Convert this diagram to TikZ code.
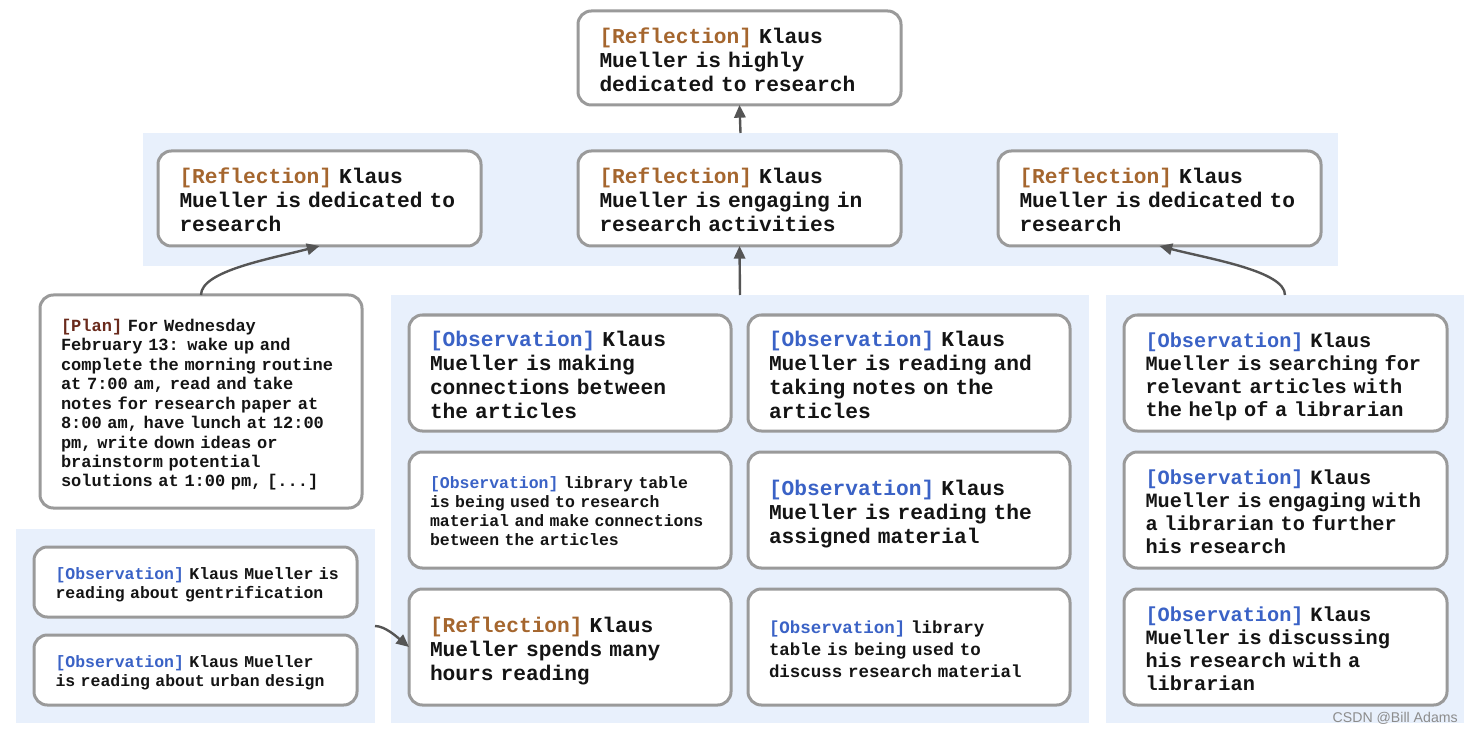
\documentclass[tikz,border=0pt]{standalone}
\usepackage{fontspec}
\setmonofont{Liberation Mono}
\newfontfamily\wmfont{Liberation Sans}
\usetikzlibrary{arrows.meta}
\definecolor{bandblue}{HTML}{E8F0FC}
\definecolor{boxgray}{HTML}{9A9A9A}
\definecolor{arrgray}{HTML}{555555}
\definecolor{reflc}{HTML}{A5662E}
\definecolor{obsc}{HTML}{3A62C6}
\definecolor{planc}{HTML}{6A2A1C}
\newcommand\fsL{\fontsize{15.9pt}{18pt}\selectfont}
\newcommand\fsR{\fontsize{15.2pt}{17.4pt}\selectfont}
\newcommand\fsM{\fontsize{13.1pt}{16.5pt}\selectfont}
\newcommand\fsS{\fontsize{12.35pt}{14.25pt}\selectfont}
\newcommand\fsP{\fontsize{12.75pt}{14.6pt}\selectfont}
\newcommand\rfl{{\color{reflc}[Reflection]}}
\newcommand\obs{{\color{obsc}[Observation]}}
\newcommand\pln{{\color{planc}[Plan]}}
\newcommand\tl[1]{\raisebox{-0.19\baselineskip}[\height][\depth]{\begin{tabular}{@{}l@{}}#1\end{tabular}}}
\tikzset{
  band/.style={fill=bandblue, draw=none, anchor=north west, inner sep=0pt, outer sep=0pt},
  mbox/.style={draw=boxgray, line width=2.25pt, rounded corners=10pt, fill=white,
    anchor=north west, outer sep=0pt, inner xsep=15.75pt, inner ysep=0pt, align=left, text width=210pt,
    font=\ttfamily\bfseries, text=black!92},
  arr/.style={draw=arrgray, line width=1.8pt, -{Triangle[length=9.5pt,width=8.5pt]}},
}
\begin{document}
\begin{tikzpicture}[x=0.75pt,y=-0.75pt]
\useasboundingbox[fill=white] (0,0) rectangle (1474,734);
% bands
\node[band, minimum width=896.25pt, minimum height=99.75pt] (band2) at (143,133) {};
\node[band, minimum width=269.25pt, minimum height=145.5pt] (bandL) at (16,529) {};
\node[band, minimum width=523.5pt, minimum height=321pt] (bandM) at (391,295) {};
\node[band, minimum width=268.5pt, minimum height=321pt] (bandR) at (1106,295) {};
% top
\node[mbox, minimum width=242.25pt, minimum height=70.5pt, font=\ttfamily\bfseries\fsL] (top) at (578,11)
  {\tl{\rfl{} Klaus\\Mueller is highly\\dedicated to research}};
% row 2
\node[mbox, minimum width=242.25pt, minimum height=71.25pt, font=\ttfamily\bfseries\fsL] (r2l) at (158,151)
  {\tl{\rfl{} Klaus\\Mueller is dedicated to\\research}};
\node[mbox, minimum width=242.25pt, minimum height=71.25pt, font=\ttfamily\bfseries\fsL] (r2m) at (578,151)
  {\tl{\rfl{} Klaus\\Mueller is engaging in\\research activities}};
\node[mbox, minimum width=242.25pt, minimum height=71.25pt, font=\ttfamily\bfseries\fsL] (r2r) at (998,151)
  {\tl{\rfl{} Klaus\\Mueller is dedicated to\\research}};
% plan
\node[mbox, minimum width=241.5pt, minimum height=159.75pt, font=\ttfamily\bfseries\fsP] (plan) at (40,295)
  {\tl{\pln{} For Wednesday\\February 13: wake up and\\complete the morning routine\\at 7:00 am, read and take\\notes for research paper at\\8:00 am, have lunch at 12:00\\pm, write down ideas or\\brainstorm potential\\solutions at 1:00 pm, [...]}};
% left bottom
\node[mbox, minimum width=242.25pt, minimum height=52.5pt, font=\ttfamily\bfseries\fsS] (lb1) at (34,547)
  {\tl{\obs{} Klaus Mueller is\\reading about gentrification}};
\node[mbox, minimum width=242.25pt, minimum height=52.5pt, font=\ttfamily\bfseries\fsS] (lb2) at (34,635)
  {\tl{\obs{} Klaus Mueller\\is reading about urban design}};
% middle
\node[mbox, minimum width=241.5pt, minimum height=87pt, font=\ttfamily\bfseries\fsL] (m11) at (409,315)
  {\tl{\obs{} Klaus\\Mueller is making\\connections between\\the articles}};
\node[mbox, minimum width=241.5pt, minimum height=87pt, font=\ttfamily\bfseries\fsL] (m12) at (748,315)
  {\tl{\obs{} Klaus\\Mueller is reading and\\taking notes on the\\articles}};
\node[mbox, minimum width=241.5pt, minimum height=87pt, font=\ttfamily\bfseries\fsS] (m21) at (409,452)
  {\tl{\obs{} library table\\is being used to research\\material and make connections\\between the articles}};
\node[mbox, minimum width=241.5pt, minimum height=87pt, font=\ttfamily\bfseries\fsL] (m22) at (748,452)
  {\tl{\obs{} Klaus\\Mueller is reading the\\assigned material}};
\node[mbox, minimum width=241.5pt, minimum height=87pt, font=\ttfamily\bfseries\fsL] (m31) at (409,589)
  {\tl{\rfl{} Klaus\\Mueller spends many\\hours reading}};
\node[mbox, minimum width=241.5pt, minimum height=87pt, font=\ttfamily\bfseries\fsM] (m32) at (748,589)
  {\tl{\obs{} library\\table is being used to\\discuss research material}};
% right
\node[mbox, minimum width=242.25pt, minimum height=87pt, font=\ttfamily\bfseries\fsR] (rr1) at (1124,315)
  {\tl{\obs{} Klaus\\Mueller is searching for\\relevant articles with\\the help of a librarian}};
\node[mbox, minimum width=242.25pt, minimum height=87pt, font=\ttfamily\bfseries\fsR] (rr2) at (1124,452)
  {\tl{\obs{} Klaus\\Mueller is engaging with\\a librarian to further\\his research}};
\node[mbox, minimum width=242.25pt, minimum height=87pt, font=\ttfamily\bfseries\fsR] (rr3) at (1124,589)
  {\tl{\obs{} Klaus\\Mueller is discussing\\his research with a\\librarian}};
% connectors
\draw[arr] (band2.north) -- (top.south);
\draw[arr] (bandM.north) -- (r2m.south);
\draw[arr] (plan.north) .. controls +(0,-24) and +(-50,13) .. (r2l.south);
\draw[arr] (bandR.north) .. controls +(0,-24) and +(50,13) .. (r2r.south);
\draw[arr] (bandL.east) .. controls +(10,0) and +(-12,-10) .. (m31.west);
% watermark
\node[anchor=east, font=\wmfont\fontsize{10.6pt}{12pt}\selectfont, text=black!45, inner sep=0pt] (wm) at (1458,718) {CSDN @Bill Adams};
\end{tikzpicture}
\end{document}
